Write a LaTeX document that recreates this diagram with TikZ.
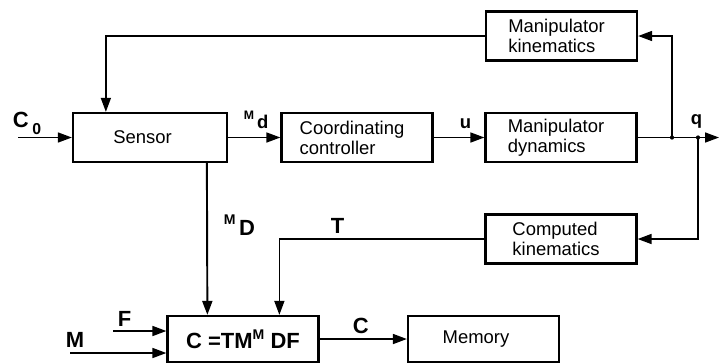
\documentclass[tikz,border=0pt]{standalone}
\usepackage{fontspec}
\setmainfont{Liberation Sans}
\usetikzlibrary{arrows.meta, positioning, calc}

\begin{document}
\begin{tikzpicture}[x=0.02cm, y=-0.02cm, >={Triangle[length=2.8mm, width=2mm]},
    font=\fontsize{10.5}{11.5}\selectfont, line width=0.9pt,
    block/.style={draw, line width=1.3pt, minimum width=3.02cm,
                  minimum height=0.98cm, align=left, inner sep=2pt},
    sig/.style={anchor=base west, inner sep=0pt,
                font=\fontsize{12.5}{13}\selectfont\bfseries},
    small/.style={anchor=base west, inner sep=0pt,
                  font=\fontsize{10.5}{11}\selectfont\bfseries}]

\useasboundingbox (0,0) rectangle (719,363);

% ---- Blocks -------------------------------------------------------------
\node[block, minimum width=3.08cm] (sensor) at (150,137.5) {Sensor\hspace*{0.3cm}};
\node[block] (ctrl) at (357,137.5) {Coordinating\hspace*{0.2cm}\\controller};
\node[block] (dyn)  at (561,137.5) {Manipulator\hspace*{0.2cm}\\dynamics};
\node[block] (kin)  at (561.5,36)  {Manipulator\hspace*{0.2cm}\\kinematics};
\node[block] (comp) at (561,239)   {Computed\\kinematics\hspace*{0.2cm}};
\node[block, minimum height=0.92cm,
      font=\fontsize{12.5}{13}\selectfont\bfseries] (form) at (243,339)
      {C =TM\raisebox{5pt}{\fontsize{8}{8}\selectfont M} DF};
\node[block, minimum height=0.92cm] (mem) at (483.5,339) {Memory\hspace*{0.3cm}};

% ---- Free ends and junctions --------------------------------------------
\coordinate (c0in)  at (18,137.5);
\coordinate (fin)   at (113,331);
\coordinate (min)   at (70,353);
\coordinate (qout)  at (719,137.5);
\coordinate (jkin)  at (672,137.5);
\coordinate (jcomp) at (698,137.5);

% ---- Forward path -------------------------------------------------------
\draw[->] (c0in) -- (sensor);
\draw[->] (sensor) -- (ctrl);
\draw[->] (ctrl) -- (dyn);
\draw[->] (dyn) -- (qout);
\fill (jkin) circle (1.2pt);
\fill (jcomp) circle (1.2pt);

% ---- Feedback loops -----------------------------------------------------
\draw[->] (jkin) |- (kin);
\draw[->] (kin) -| ($(sensor.north west)+(34,0)$);
\draw[->] (jcomp) |- (comp);
\draw[->] (comp) -| ($(form.north west)+(113,0)$);
\draw[->, line width=1.1pt] ($(sensor.south west)+(135,0)$) -- ($(form.north west)+(41,0)$);

% ---- Recording ----------------------------------------------------------
\draw[->] (fin) -- (fin -| form.west);
\draw[->] (min) -- (min -| form.west);
\draw[->] (form) -- (mem);

% ---- Signal labels ------------------------------------------------------
\node[sig] (c0lbl) at (12,127) {C\,\raisebox{-4pt}{\fontsize{9}{9}\selectfont 0}};
\node[small] (mdlbl) at (243,128) {\raisebox{5pt}{\fontsize{7}{7}\selectfont M}\,d};
\node[small] (ulbl) at (459,128) {u};
\node[small] (qlbl) at (690,124) {q};
\node[sig] (mDlbl) at (223,235) {\raisebox{6pt}{\fontsize{8}{8}\selectfont M}\,D};
\node[sig] (tlbl) at (330,233) {T};
\node[sig] (flbl) at (117,326) {F};
\node[sig] (mlbl) at (65,347) {M};
\node[sig] (clbl) at (352,333) {C};

\end{tikzpicture}
\end{document}
